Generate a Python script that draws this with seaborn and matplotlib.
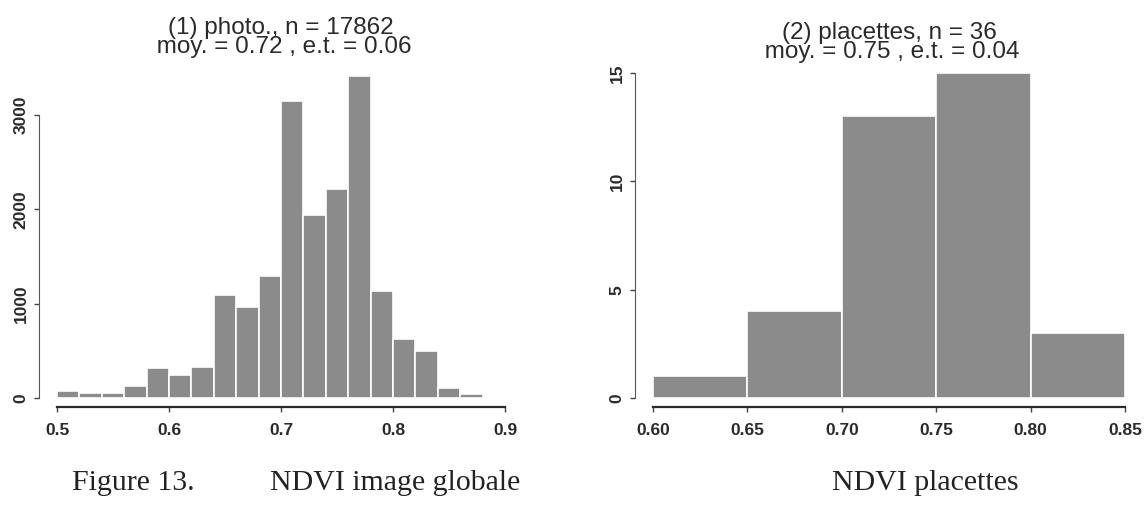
import matplotlib
matplotlib.use("Agg")
import matplotlib.pyplot as plt
import numpy as np
import seaborn as sns

sns.set_style("white")
plt.rcParams["font.family"] = ["Liberation Sans", "DejaVu Sans"]

# Histogram (1): photo, bins of 0.02 from 0.50 to 0.88
photo_edges = [0.50, 0.52, 0.54, 0.56, 0.58, 0.60, 0.62, 0.64, 0.66, 0.68,
               0.70, 0.72, 0.74, 0.76, 0.78, 0.80, 0.82, 0.84, 0.86, 0.88]
photo_counts = [70, 55, 55, 125, 315, 245, 330, 1090, 965, 1290,
                3145, 1945, 2215, 3410, 1135, 630, 495, 110, 45]
photo_title = "(1) photo., n = 17862\n moy. = 0.72 , e.t. = 0.06"
photo_xticks = [0.5, 0.6, 0.7, 0.8, 0.9]
photo_yticks = [0, 1000, 2000, 3000]

# Histogram (2): placettes, bins of 0.05 from 0.60 to 0.85
plac_edges = [0.60, 0.65, 0.70, 0.75, 0.80, 0.85]
plac_counts = [1, 4, 13, 15, 3]
plac_title = "(2) placettes, n = 36\n moy. = 0.75 , e.t. = 0.04"
plac_xticks = [0.60, 0.65, 0.70, 0.75, 0.80, 0.85]
plac_yticks = [0, 5, 10, 15]

W, H = 1145, 508
fig = plt.figure(figsize=(W / 100, H / 100), dpi=100)

def px_axes(x0, x1, ybot, ytop):
    return fig.add_axes([x0 / W, (H - ybot) / H, (x1 - x0) / W, (ybot - ytop) / H])

BAR = "#8b8b8b"
INK = "#2a2a2a"
PT = 0.72  # points per pixel at dpi 100

def style(ax, edges, counts, title, xticks, yticks, xlim, ylim, xfmt):
    centers = [(a + b) / 2 for a, b in zip(edges[:-1], edges[1:])]
    sns.histplot(x=centers, weights=counts, bins=edges, ax=ax, color=BAR,
                 edgecolor="white", linewidth=1.2, alpha=1)
    ax.set_xlim(*xlim)
    ax.set_ylim(*ylim)
    ax.set_xlabel("")
    ax.set_ylabel("")
    for s in ["top", "right"]:
        ax.spines[s].set_visible(False)
    ax.spines["left"].set_position(("outward", 18 * PT))
    ax.spines["bottom"].set_position(("outward", 9 * PT))
    ax.spines["left"].set_bounds(yticks[0], yticks[-1])
    ax.spines["bottom"].set_bounds(xticks[0], xticks[-1])
    ax.spines["left"].set_color("#555555")
    ax.spines["bottom"].set_color(INK)
    ax.spines["bottom"].set_linewidth(1.6)
    ax.set_xticks(xticks)
    ax.set_xticklabels([xfmt.format(v) for v in xticks], fontsize=12.5,
                       fontweight="bold", color=INK)
    ax.set_yticks(yticks)
    ax.set_yticklabels([str(v) for v in yticks], fontsize=12.5,
                       fontweight="bold", color=INK, rotation=90, va="center")
    ax.tick_params(axis="both", direction="out", length=3.5, width=1,
                   color="#444444", bottom=True, left=True)
    ax.tick_params(axis="x", pad=8)
    ax.tick_params(axis="y", pad=4)
    ax.set_title(title, fontsize=17.5, color=INK, linespacing=0.8, pad=11)

ax1 = px_axes(57, 505, 398, 68)
style(ax1, photo_edges, photo_counts, photo_title, photo_xticks, photo_yticks,
      (0.5, 0.9), (0, 3500), "{:.1f}")

ax2 = px_axes(653, 1125, 398, 73)
style(ax2, plac_edges, plac_counts, plac_title, plac_xticks, plac_yticks,
      (0.6, 0.85), (0, 15), "{:.2f}")

serif = ["Liberation Serif", "DejaVu Serif"]
fig.text(72 / W, 1 - 490 / H, "Figure 13.", family=serif, fontsize=21.5, color="#222222")
fig.text(270 / W, 1 - 490 / H, "NDVI image globale", family=serif, fontsize=21.5, color="#222222")
fig.text(925 / W, 1 - 490 / H, "NDVI placettes", family=serif, fontsize=21.5,
         color="#222222", ha="center")

fig.savefig("out.png", dpi=100)
